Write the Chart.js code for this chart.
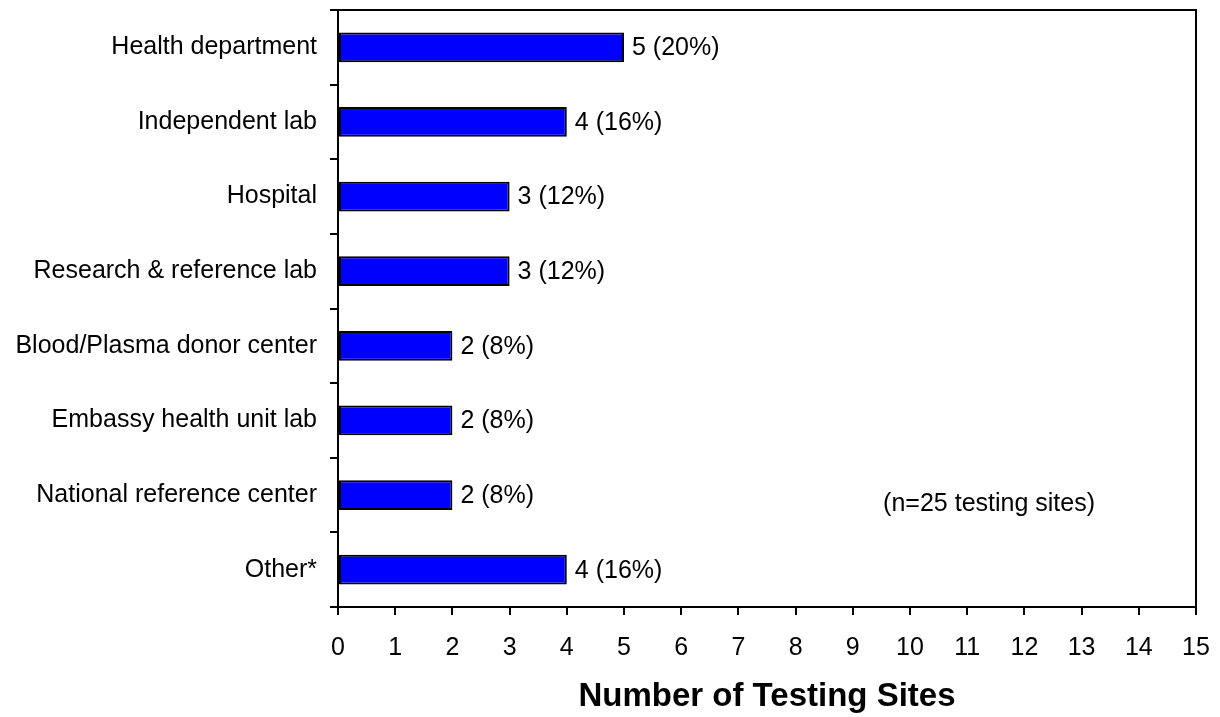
<!DOCTYPE html>
<html>
<head>
<meta charset="utf-8">
<script src="https://cdn.jsdelivr.net/npm/chart.js@4.4.0/dist/chart.umd.min.js"></script>
<style>
  html, body { margin: 0; padding: 0; background: #fff; }
  #wrap { width: 1220px; height: 717px; }
</style>
</head>
<body>
<div id="wrap"><canvas id="chart-sites"></canvas></div>
<script>
const siteTypes = [
    'Health department',
    'Independent lab',
    'Hospital',
    'Research & reference lab',
    'Blood/Plasma donor center',
    'Embassy health unit lab',
    'National reference center',
    'Other*'
];
const siteCounts = [5, 4, 3, 3, 2, 2, 2, 4];
const sitePercents = [20, 16, 12, 12, 8, 8, 8, 16];
const xTickMax = 15;
const noteText = '(n=25 testing sites)';

const FONT = '"Liberation Sans", Arial, sans-serif';

/*
 * Box around the plot area plus the value labels next to the bars
 */
const framePlugin = {
    id: 'frame',
    afterDatasetsDraw(chart){
        const ctx = chart.ctx;
        const area = chart.chartArea;
        ctx.save();
        ctx.strokeStyle = '#000';
        ctx.lineWidth = 2;
        ctx.beginPath();
        ctx.moveTo(area.left, area.top);
        ctx.lineTo(area.right, area.top);
        ctx.lineTo(area.right, area.bottom);
        ctx.stroke();

        ctx.fillStyle = '#000';
        ctx.font = '25px ' + FONT;
        ctx.textBaseline = 'middle';
        ctx.textAlign = 'left';
        const meta = chart.getDatasetMeta(0);
        meta.data.forEach((bar, i) => {
            ctx.fillText(`${siteCounts[i]} (${sitePercents[i]}%)`, bar.x + 8, bar.y + 1);
        });

        const xScale = chart.scales.x;
        const yScale = chart.scales.y;
        ctx.fillText(noteText, xScale.getPixelForValue(9.53), yScale.getPixelForValue(6) + 9);
        ctx.restore();
    }
};

new Chart(document.getElementById('chart-sites'), {
    type: 'bar',
    data: {
        labels: siteTypes,
        datasets: [{
            data: siteCounts,
            backgroundColor: '#0000FF',
            borderColor: '#000',
            borderWidth: 2,
            borderSkipped: false,
            categoryPercentage: 1,
            barPercentage: 0.4
        }]
    },
    options: {
        indexAxis: 'y',
        responsive: true,
        maintainAspectRatio: false,
        animation: false,
        layout: {
            padding: { top: 10, right: 24, left: 0, bottom: 0 }
        },
        plugins: {
            legend: { display: false },
            tooltip: { enabled: false }
        },
        scales: {
            x: {
                type: 'linear',
                min: 0,
                max: xTickMax,
                afterFit(scale){
                    scale.height = 110;
                    scale.paddingLeft = 0;
                    scale.paddingRight = 0;
                },
                border: { display: true, color: '#000', width: 2 },
                grid: {
                    drawOnChartArea: false,
                    drawTicks: true,
                    tickLength: 8,
                    color: '#000',
                    lineWidth: 2
                },
                ticks: {
                    stepSize: 1,
                    color: '#000',
                    padding: 18,
                    maxRotation: 0,
                    font: { family: FONT, size: 25 }
                },
                title: {
                    display: true,
                    text: 'Number of Testing Sites',
                    color: '#000',
                    padding: { top: 13, bottom: 0 },
                    font: { family: FONT, size: 33, weight: 'bold' }
                }
            },
            y: {
                afterFit(scale){
                    scale.width = 338;
                    scale.paddingTop = 0;
                    scale.paddingBottom = 0;
                },
                border: { display: true, color: '#000', width: 2 },
                grid: {
                    offset: true,
                    drawOnChartArea: false,
                    drawTicks: true,
                    tickLength: 8,
                    color: '#000',
                    lineWidth: 2
                },
                ticks: {
                    color: '#000',
                    padding: 13,
                    font: { family: FONT, size: 25 }
                }
            }
        }
    },
    plugins: [framePlugin]
});
</script>
</body>
</html>
